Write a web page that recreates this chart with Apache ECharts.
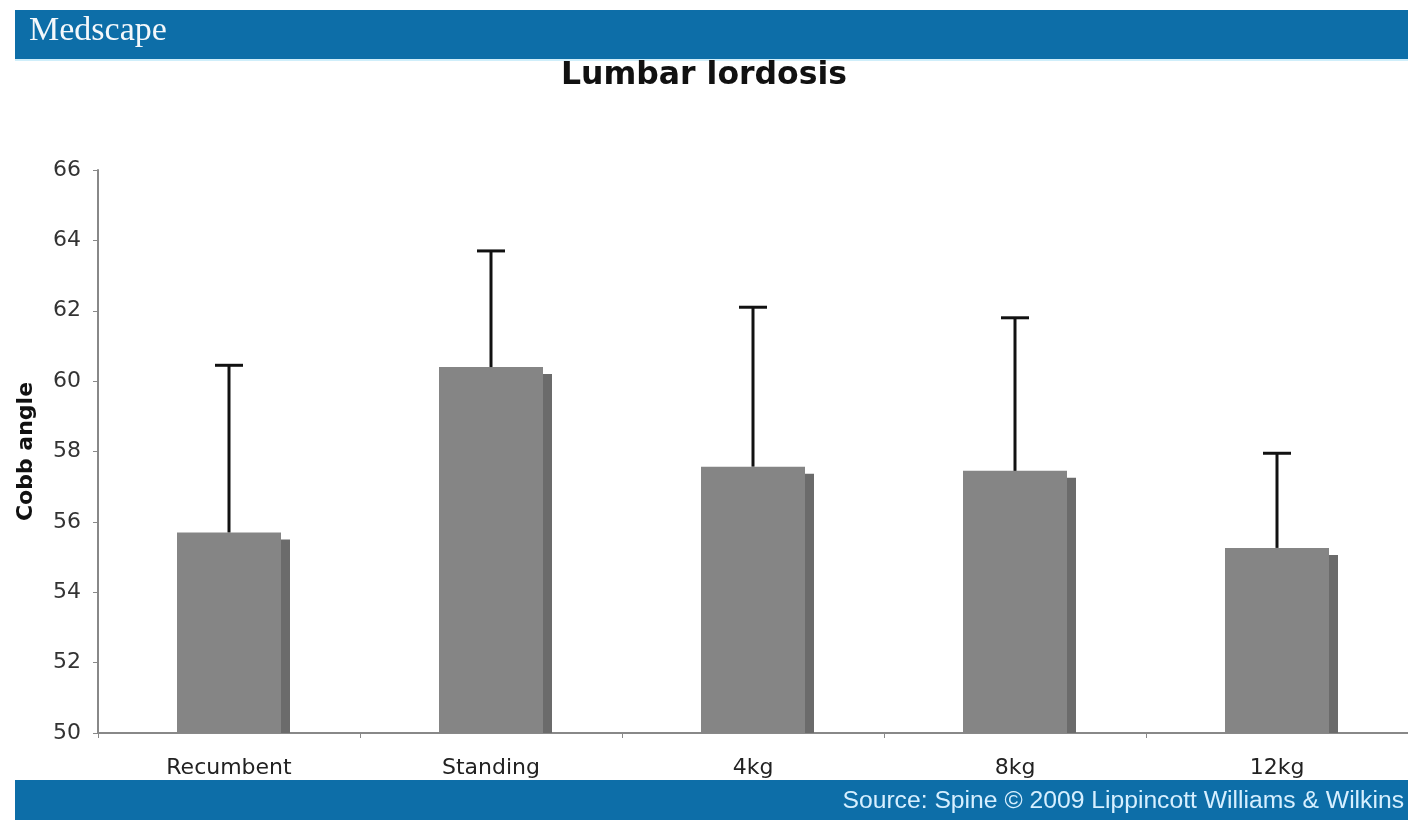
<!DOCTYPE html>
<html>
<head>
<meta charset="utf-8">
<script src="https://cdn.jsdelivr.net/npm/echarts@6/dist/echarts.min.js"></script>
<style>
  html, body { margin: 0; padding: 0; background: #fff; }
  #chart { width: 1408px; height: 820px; }
</style>
</head>
<body>
<div id="chart"></div>
<script>
const categories = ['Recumbent', 'Standing', '4kg', '8kg', '12kg'];
const meanAngle = [55.7, 60.4, 57.57, 57.45, 55.26];
const errorTop = [60.45, 63.7, 62.1, 61.8, 57.95];
const yTicks = { min: 50, max: 66, interval: 2 };

const chart = echarts.init(document.getElementById('chart'));

// bar with a small dark "3D" side, plus the upper error whisker
const renderBar = (params, api) => {
  const idx = api.value(0);
  const base = api.coord([idx, yTicks.min]);
  const top = api.coord([idx, api.value(1)]);
  const err = api.coord([idx, api.value(2)]);
  const cx = base[0];
  const w = 104;
  const left = cx - w / 2;
  return {
    type: 'group',
    children: [
      {
        type: 'rect',
        shape: { x: left + w, y: top[1] + 7, width: 9, height: base[1] - top[1] - 7 },
        style: { fill: '#6b6b6b' }
      },
      {
        type: 'rect',
        shape: { x: left, y: top[1], width: w, height: base[1] - top[1] },
        style: { fill: '#858585' }
      },
      {
        type: 'line',
        shape: { x1: cx, y1: top[1], x2: cx, y2: err[1] },
        style: { stroke: '#111', lineWidth: 3 }
      },
      {
        type: 'line',
        shape: { x1: cx - 14, y1: err[1], x2: cx + 14, y2: err[1] },
        style: { stroke: '#111', lineWidth: 3 }
      }
    ]
  };
};

const option = {
  backgroundColor: '#fff',
  animation: false,
  title: {
    text: 'Lumbar lordosis',
    left: 'center',
    top: 55,
    textStyle: { fontFamily: 'DejaVu Sans', fontWeight: 'bold', fontSize: 31.5, color: '#111' }
  },
  graphic: [
    { type: 'rect', shape: { x: 15, y: 10, width: 1393, height: 49 }, style: { fill: '#0d6ea8' } },
    { type: 'rect', shape: { x: 15, y: 59, width: 1393, height: 2 }, style: { fill: '#cfeefa' } },
    {
      type: 'text', left: 29, top: 14,
      style: { text: 'Medscape', fill: '#f4f8fb', font: '34px "Liberation Serif", serif' }
    },
    { type: 'rect', shape: { x: 15, y: 780, width: 1393, height: 40 }, style: { fill: '#0d6ea8' } },
    {
      type: 'text', right: 4, top: 789,
      style: { text: 'Source: Spine © 2009 Lippincott Williams & Wilkins', fill: '#d6efff', font: '24.7px "Liberation Sans", Arial, sans-serif' }
    }
  ],
  grid: { left: 98, top: 170, width: 1316, height: 563 },
  xAxis: {
    type: 'category',
    data: categories,
    axisLine: { lineStyle: { color: '#888', width: 2 } },
    axisTick: { show: true, length: 5, lineStyle: { color: '#888' } },
    axisLabel: { color: '#222', fontSize: 22, fontFamily: 'DejaVu Sans', margin: 24 }
  },
  yAxis: {
    type: 'value',
    min: yTicks.min,
    max: yTicks.max,
    interval: yTicks.interval,
    name: 'Cobb angle',
    nameLocation: 'middle',
    nameGap: 61,
    nameTextStyle: { fontFamily: 'DejaVu Sans', fontWeight: 'bold', fontSize: 22, color: '#111' },
    axisLine: { show: true, lineStyle: { color: '#888', width: 2 } },
    axisTick: { show: true, length: 5, lineStyle: { color: '#888' } },
    axisLabel: { color: '#333', fontSize: 22, fontFamily: 'DejaVu Sans', margin: 17 },
    splitLine: { show: false }
  },
  series: [
    {
      type: 'custom',
      renderItem: renderBar,
      encode: { x: 0, y: [1, 2] },
      data: categories.map((c, i) => [i, meanAngle[i], errorTop[i]])
    }
  ]
};

chart.setOption(option);
</script>
</body>
</html>
